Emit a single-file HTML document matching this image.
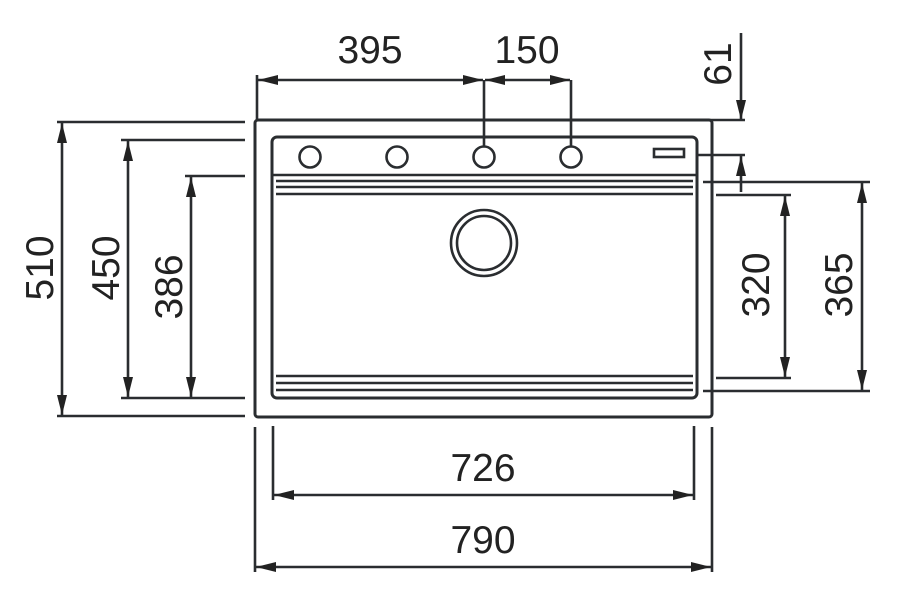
<!DOCTYPE html>
<html><head><style>html,body{margin:0;padding:0;background:#fff}</style></head><body>
<svg width="900" height="597" viewBox="0 0 900 597" xmlns="http://www.w3.org/2000/svg">
<defs>
<marker id="a" viewBox="0 0 20 10" refX="20" refY="5" markerWidth="20" markerHeight="10" markerUnits="userSpaceOnUse" orient="auto-start-reverse"><path d="M0,0 L20,5 L0,10 Z" fill="#222"/></marker>
</defs>
<g stroke="#2a2d30" fill="none">
<rect x="255" y="120" width="457" height="297" rx="3" stroke-width="3"/>
<rect x="272" y="137" width="425" height="261" rx="5" stroke-width="3"/>
<g stroke-width="2.6">
<line x1="273" y1="175" x2="696" y2="175"/>
<line x1="276" y1="181" x2="693" y2="181"/>
<line x1="276" y1="187" x2="693" y2="187"/>
<line x1="276" y1="194" x2="693" y2="194"/>
<line x1="276" y1="376" x2="693" y2="376"/>
<line x1="276" y1="383" x2="693" y2="383"/>
<line x1="276" y1="390" x2="693" y2="390"/>
<circle cx="310" cy="157" r="10.5"/><circle cx="397" cy="157" r="10.5"/>
<circle cx="484" cy="157" r="10.5"/><circle cx="571" cy="157" r="10.5"/>
<rect x="654" y="149" width="30" height="8"/>
<circle cx="484" cy="243" r="33"/><circle cx="484" cy="243" r="27"/>
</g>
<g stroke-width="2.6">
<line x1="257" y1="75" x2="257" y2="120"/>
<line x1="484" y1="80" x2="484" y2="147"/>
<line x1="571" y1="80" x2="571" y2="147"/>
<line x1="258" y1="80" x2="483" y2="80" marker-end="url(#a)" marker-start="url(#a)"/>
<line x1="485" y1="80" x2="570" y2="80" marker-end="url(#a)" marker-start="url(#a)"/>
<line x1="741" y1="33" x2="741" y2="120" marker-end="url(#a)"/>
<line x1="741" y1="192" x2="741" y2="156" marker-end="url(#a)"/>
<line x1="697" y1="120" x2="745" y2="120"/>
<line x1="697" y1="155" x2="745" y2="155"/>
<line x1="703" y1="182" x2="870" y2="182"/>
<line x1="716" y1="195" x2="791" y2="195"/>
<line x1="716" y1="378" x2="791" y2="378"/>
<line x1="703" y1="391" x2="870" y2="391"/>
<line x1="785" y1="196" x2="785" y2="377" marker-end="url(#a)" marker-start="url(#a)"/>
<line x1="862" y1="183" x2="862" y2="390" marker-end="url(#a)" marker-start="url(#a)"/>
<line x1="57" y1="122" x2="245" y2="122"/>
<line x1="57" y1="416" x2="245" y2="416"/>
<line x1="121" y1="140" x2="245" y2="140"/>
<line x1="121" y1="398" x2="245" y2="398"/>
<line x1="185" y1="176" x2="245" y2="176"/>
<line x1="62" y1="123" x2="62" y2="415" marker-end="url(#a)" marker-start="url(#a)"/>
<line x1="128" y1="141" x2="128" y2="397" marker-end="url(#a)" marker-start="url(#a)"/>
<line x1="191" y1="177" x2="191" y2="397" marker-end="url(#a)" marker-start="url(#a)"/>
<line x1="255" y1="427" x2="255" y2="572"/>
<line x1="712" y1="427" x2="712" y2="572"/>
<line x1="273" y1="426" x2="273" y2="500"/>
<line x1="694" y1="426" x2="694" y2="500"/>
<line x1="274" y1="495" x2="693" y2="495" marker-end="url(#a)" marker-start="url(#a)"/>
<line x1="256" y1="567" x2="711" y2="567" marker-end="url(#a)" marker-start="url(#a)"/>
</g>
</g>
<g font-family="Liberation Sans, sans-serif" font-size="39" fill="#222" text-anchor="middle">
<text x="370" y="63">395</text>
<text x="527" y="63">150</text>
<text x="483" y="481">726</text>
<text x="483" y="553">790</text>
<text transform="translate(53,268) rotate(-90)">510</text>
<text transform="translate(119,268) rotate(-90)">450</text>
<text transform="translate(182,287) rotate(-90)">386</text>
<text transform="translate(769,285) rotate(-90)">320</text>
<text transform="translate(852,285) rotate(-90)">365</text>
<text transform="translate(731,64) rotate(-90)">61</text>
</g>
</svg>
</body></html>
